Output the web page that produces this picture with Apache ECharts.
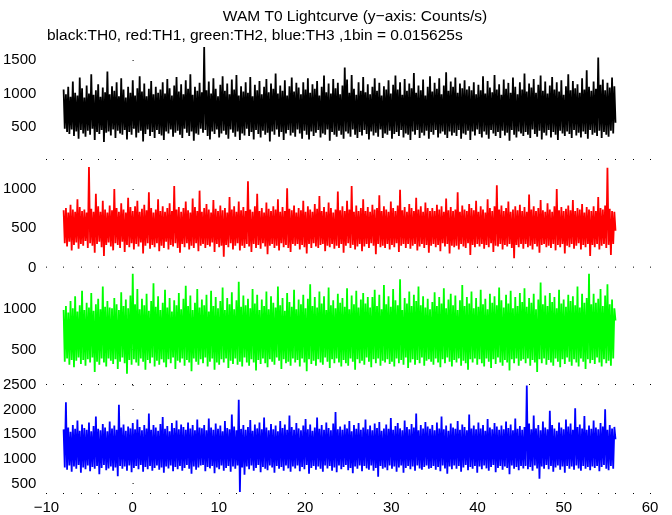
<!DOCTYPE html>
<html>
<head>
<meta charset="utf-8">
<script src="https://cdn.jsdelivr.net/npm/echarts@6/dist/echarts.min.js"></script>
<style>html,body{margin:0;padding:0;background:#fff}#c{width:672px;height:515px}</style>
</head>
<body>
<div id="c"></div>
<script>
// Time axis: light curve from -8 s to 56 s (values read as a high/low envelope, ~0.13 s resolution)
var tStart = -8, tEnd = 56;
var xTicks = [-10, 0, 10, 20, 30, 40, 50, 60];

var th0 = [
1060,470,990,420,1100,390,950,460,1180,360,1010,430,970,320,1240,450,1080,400,940,350,
1120,440,1000,380,1290,470,980,300,1050,420,1140,390,950,450,1090,270,1020,410,1330,430,
990,370,1110,460,1040,330,1170,440,960,400,1230,380,1060,450,940,310,1100,420,1010,380,
1200,470,970,340,1080,410,1260,440,1030,280,1150,390,960,460,1070,360,1190,420,990,330,
1100,450,1010,390,1060,370,1170,300,1000,430,1220,400,1080,460,970,350,1120,410,1250,440,
1030,380,1140,330,990,470,1200,410,1070,360,1290,430,980,290,1100,400,1040,380,1160,470,
1020,410,1700,450,1050,360,1180,310,1000,430,1230,390,1070,460,960,340,1130,400,1260,440,
1040,380,1150,320,990,460,1210,410,1060,350,1280,430,970,300,1110,400,1030,370,1170,470,
1010,360,1250,420,960,310,1130,450,1050,390,1190,340,990,440,1100,380,1220,410,1020,280,
1150,430,1070,380,1300,460,1000,350,1120,420,1040,300,1200,400,970,450,1110,370,1240,410,
1030,350,1160,460,1090,400,990,320,1170,440,1060,380,1230,310,1010,430,1140,360,1070,410,
1190,450,970,340,1100,400,1270,380,1020,460,1150,290,1000,420,1220,380,1080,350,1160,440,
990,380,1120,320,1390,430,1210,400,1010,350,1280,460,1070,380,980,330,1170,420,1040,370,
1250,450,1020,390,1140,310,990,430,1100,370,1230,410,1040,350,1160,460,970,330,1110,400,
1060,380,1200,440,1000,320,1130,390,1270,420,1060,360,1170,450,980,340,1220,400,1040,380,
1150,300,1080,430,1310,380,1010,450,1120,330,1050,410,1210,370,970,440,1100,320,1260,420,
1030,380,1160,450,1070,340,1230,400,990,430,1120,380,1320,330,1040,430,1180,370,1100,410,
1240,360,1010,450,1150,320,1080,400,1200,380,1060,440,1110,300,1050,430,1170,370,990,460,
1130,390,1050,340,1260,430,1000,380,1190,320,1090,450,1020,400,1280,360,1060,420,1140,330,
980,440,1210,370,1070,410,1160,290,1010,450,1240,380,1100,340,990,430,1170,400,1060,360,
1300,420,1030,380,1150,330,1090,460,1220,390,1010,350,1130,440,1270,310,1040,410,1180,370,
1000,450,1120,340,1250,420,1060,380,1170,300,1030,440,1200,400,980,360,1110,430,1290,390,
1050,330,1190,450,1080,370,1140,410,1010,340,1230,430,1060,390,1350,320,1100,450,1040,380,
1180,410,1070,360,1540,440,1130,330,1210,420,1050,380,1160,350,1090,440,1240,400,1110,560
];
var th1 = [
730,310,760,270,700,330,800,220,740,290,710,320,870,240,770,300,720,280,740,340,
700,250,1280,310,750,280,710,190,940,300,780,330,710,260,850,150,740,290,700,320,
790,270,730,220,1000,310,760,290,710,250,820,330,740,200,700,290,890,260,770,310,
720,230,780,300,850,270,710,320,750,180,800,280,730,310,960,240,760,290,700,260,
740,310,870,210,720,280,780,250,710,330,760,230,820,290,720,270,1040,310,740,250,
770,190,710,300,760,260,840,310,730,230,700,280,880,250,770,310,720,210,980,280,
710,300,760,250,810,290,740,270,700,320,860,200,750,300,720,260,790,280,730,140,
760,290,700,260,900,310,740,230,780,280,710,310,840,220,730,280,770,250,720,300,
1100,270,740,200,710,300,780,250,940,290,720,240,760,310,700,270,830,170,750,280,
720,300,780,250,740,280,870,220,710,310,770,260,720,290,1010,250,750,200,730,300,
790,280,700,300,760,230,730,290,850,260,710,180,780,300,740,250,710,310,810,270,
750,250,910,290,720,300,770,210,710,280,830,260,760,300,700,240,740,280,970,250,
730,300,780,190,720,280,850,310,740,250,1040,290,710,230,790,270,720,300,760,210,
870,270,720,300,770,250,710,310,800,280,740,170,760,300,920,260,720,280,780,250,
740,300,710,230,840,290,760,260,720,310,790,200,990,280,730,300,770,250,710,300,
810,240,760,280,720,300,890,220,740,270,780,300,710,250,830,290,760,190,720,280,
760,300,720,260,800,290,740,210,780,310,710,270,880,300,730,180,770,280,720,260,
740,280,960,230,710,300,790,270,740,250,720,310,810,160,760,290,730,260,850,300,
710,270,780,300,740,240,700,290,870,260,760,310,720,200,780,280,1050,270,740,300,
790,230,720,290,760,270,840,300,710,250,740,120,780,290,730,260,800,300,720,240,
770,300,710,260,930,280,740,230,780,300,720,270,760,190,860,290,730,300,710,260,
820,280,740,250,710,300,780,220,1000,290,730,260,770,300,720,180,750,280,790,260,
730,300,860,240,720,280,760,310,740,230,810,290,700,260,770,300,740,150,720,290,
780,260,720,300,900,230,760,280,740,300,790,250,1270,290,750,160,720,300,710,470
];
var th2 = [
990,350,1040,390,960,310,1100,370,1010,280,1160,360,970,400,1050,320,1230,370,990,300,
1080,380,1020,340,1200,400,980,220,1060,350,1130,310,1000,390,1280,340,1030,290,1100,390,
1020,360,1010,320,1140,380,1060,260,990,350,1210,400,1040,330,1120,200,1010,370,1170,310,
1440,380,1060,340,1250,300,1000,390,1130,350,1050,250,1190,370,980,330,1100,400,1320,290,
1030,360,1160,310,990,380,1080,340,1240,280,1020,380,1140,330,970,400,1110,260,1050,360,
1200,340,1000,390,1130,300,1290,370,1040,340,1170,230,990,390,1080,350,1250,310,1020,380,
1120,330,1050,400,1180,290,970,350,1230,390,1040,250,1150,340,1010,310,1100,380,1270,340,
990,390,1140,270,1060,360,1210,320,1000,390,1110,310,1340,350,1030,290,1170,400,1050,340,
1130,300,1010,380,1250,340,1070,240,1180,370,990,320,1120,390,1040,330,1220,280,1000,380,
1160,350,1080,310,1020,400,1280,360,1050,260,1140,380,980,330,1200,350,1090,300,1030,390,
1240,340,1000,370,1120,290,1060,390,1180,340,1010,230,1130,380,1310,320,1040,360,1150,300,
1020,380,1220,340,1070,310,1160,400,990,350,1270,270,1050,380,1110,330,1010,390,1190,340,
1080,290,1140,370,1030,330,1260,300,1000,390,1170,350,1060,250,1230,380,1020,330,1120,360,
1200,310,1070,400,1150,350,1020,280,1150,380,1240,330,1040,390,1180,300,1000,360,1300,340,
1060,380,1160,320,1030,350,1250,290,1110,390,1050,330,1370,370,990,310,1140,400,1070,270,
1220,340,1040,380,1180,310,1100,370,1280,330,1050,400,1160,300,1020,360,1130,380,1000,350,
1090,310,1210,390,1040,340,1150,280,1070,380,1260,330,1010,400,1120,350,1190,290,1050,370,
1170,340,990,390,1110,300,1300,360,1040,330,1150,250,1070,380,1220,340,1010,390,1140,310,
1030,380,1240,330,1060,290,1130,390,1000,350,1190,270,1080,380,1160,320,1050,400,1270,340,
1110,300,1020,370,1180,340,1070,240,1230,380,1010,330,1150,390,1040,300,1200,360,1090,380,
1260,330,1030,390,1140,300,1080,370,1190,340,1000,220,1120,380,1330,330,1060,390,1170,310,
1040,370,1200,340,1090,300,1150,390,1010,350,1240,280,1070,380,1120,320,1030,400,1180,350,
1100,300,1160,380,1050,340,1280,290,1020,390,1190,350,1080,260,1140,380,1440,330,1060,370,
1190,320,1080,400,1130,340,1250,290,1040,380,1170,330,1310,360,1060,300,1120,390,1010,860
];
var th3 = [
1600,830,2150,780,1640,870,1550,740,1690,850,1610,800,1780,880,1570,720,1700,830,1630,790,
1590,870,1740,750,1560,840,1670,800,1860,860,1610,690,1580,820,1710,880,1640,770,1560,810,
1760,850,1620,760,1680,830,1590,650,2100,860,1640,800,1700,850,1570,760,1660,870,1620,730,
1730,820,1600,860,1800,790,1650,880,1580,740,1690,840,1620,790,1920,860,1590,760,1690,820,
1640,870,1570,780,1710,830,1850,720,1610,850,1670,810,1560,870,1730,750,1630,840,1780,790,
1600,860,1700,760,1650,820,1590,880,1740,800,1620,700,1690,850,1580,780,1800,830,1640,870,
1620,880,1690,750,1580,840,1820,810,1640,860,1590,710,1720,830,1610,790,1680,870,1560,760,
1770,820,1630,860,1600,740,1900,850,1660,800,1580,870,2200,330,1610,830,1690,680,1590,850,
1650,790,1790,870,1570,760,1700,820,1620,880,1740,730,1600,840,1840,800,1640,770,1580,870,
1710,830,1600,720,1680,860,1560,800,1770,840,1630,760,1700,870,1590,810,1880,740,1650,850,
1590,810,1730,870,1620,750,1580,840,1680,790,1810,880,1600,700,1700,820,1570,860,1640,780,
1840,850,1610,800,1690,740,1590,870,1740,810,1630,860,1580,760,1720,830,1950,730,1600,870,
1660,790,1590,840,1700,880,1620,770,1770,820,1560,710,1690,850,1610,800,1730,870,1590,750,
1640,860,1800,810,1600,780,1680,870,1580,760,1720,820,1630,640,1750,860,1570,800,1620,830,
1700,770,1610,870,1830,800,1590,850,1670,740,1730,830,1620,870,1580,720,1780,820,1650,860,
1600,790,1710,850,1640,760,1920,870,1580,810,1690,780,1620,840,1750,870,1660,800,1610,820,
1690,860,1580,780,1740,840,1620,750,1860,870,1600,810,1680,700,1570,850,1720,790,1640,870,
1610,800,1770,860,1590,740,1700,830,1650,880,1580,770,1900,840,1620,800,1680,860,1600,720,
1740,850,1620,790,1690,870,1570,810,1810,760,1640,840,1600,880,1730,730,1660,820,1590,860,
1680,780,1600,850,1760,820,1630,690,1700,870,1580,800,1820,840,1610,770,1670,860,1590,810,
1650,860,2490,790,1720,840,1600,760,1880,870,1620,810,1690,600,1580,850,1760,800,1640,880,
1600,790,1980,860,1690,740,1620,830,1570,870,1740,780,1640,850,1600,720,1800,860,1660,800,
1720,850,1590,780,2030,870,1650,810,1700,760,1620,860,1870,800,1590,840,1680,770,1610,850,
1780,820,1640,860,1600,750,1730,840,1660,880,2010,800,1590,770,1690,860,1620,800,1650,1400
];

// axis ranges and tick labels per panel
var yRanges = [[0, 1700], [-30, 1370], [60, 1486], [290, 2500]];
var yLabels = [[500, 1000, 1500], [0, 500, 1000], [500, 1000], [500, 1000, 1500, 2000, 2500]];
var colors = ['#000000', '#ff0000', '#00ff00', '#0000ff'];
var seriesValues = [th0, th1, th2, th3];

function toPairs(vals) {
  var n = vals.length, step = (tEnd - tStart) / (n - 1), out = [];
  for (var i = 0; i < n; i++) out.push([tStart + i * step, vals[i]]);
  return out;
}
function fmt(v) { return v < 0 ? '\u2212' + Math.abs(v) : String(v); }

var gridPos = [[47, 113], [160, 110], [270, 115], [385, 109]];
var grids = [], xAxes = [], yAxes = [], series = [];
var font = 'Liberation Sans, Arial, Helvetica, sans-serif';
for (var k = 0; k < 4; k++) {
  grids.push({left: 45, right: 22, top: gridPos[k][0], height: gridPos[k][1]});
  xAxes.push({
    type: 'value', gridIndex: k, min: xTicks[0], max: xTicks[xTicks.length - 1], interval: 10,
    axisLine: {show: false}, splitLine: {show: false},
    axisTick: {show: true, inside: true, length: 1, lineStyle: {color: '#000', width: 1}},
    minorTick: {show: true, splitNumber: 5, length: 1, lineStyle: {color: '#000', width: 1}},
    axisLabel: {show: k === 3, fontSize: 15, color: '#000', fontFamily: font, margin: 6, formatter: fmt}
  });
  yAxes.push({
    type: 'value', gridIndex: k, min: yRanges[k][0], max: yRanges[k][1],
    axisLine: {show: false}, splitLine: {show: false},
    axisTick: {show: true, inside: true, length: 1, customValues: yLabels[k], lineStyle: {color: '#000'}},
    axisLabel: {show: true, customValues: yLabels[k], fontSize: 15, color: '#000', fontFamily: font, margin: 10, formatter: fmt}
  });
  series.push({
    type: 'line', xAxisIndex: k, yAxisIndex: k, data: toPairs(seriesValues[k]),
    showSymbol: false, symbol: 'none', silent: true,
    lineStyle: {color: colors[k], width: 1.8}
  });
}

var chart = echarts.init(document.getElementById('c'), null, {renderer: 'canvas'});
chart.setOption({
  animation: false,
  backgroundColor: '#fff',
  grid: grids, xAxis: xAxes, yAxis: yAxes, series: series,
  graphic: [
    {type: 'text', x: 355, y: 17, style: {text: 'WAM T0 Lightcurve (y\u2212axis: Counts/s)', fontSize: 15.5, fontFamily: font, fill: '#000', align: 'center', verticalAlign: 'middle'}},
    {type: 'text', x: 47, y: 36, style: {text: 'black:TH0, red:TH1, green:TH2, blue:TH3 ,1bin = 0.015625s', fontSize: 15.5, fontFamily: font, fill: '#000', align: 'left', verticalAlign: 'middle'}}
  ]
});
</script>
</body>
</html>
